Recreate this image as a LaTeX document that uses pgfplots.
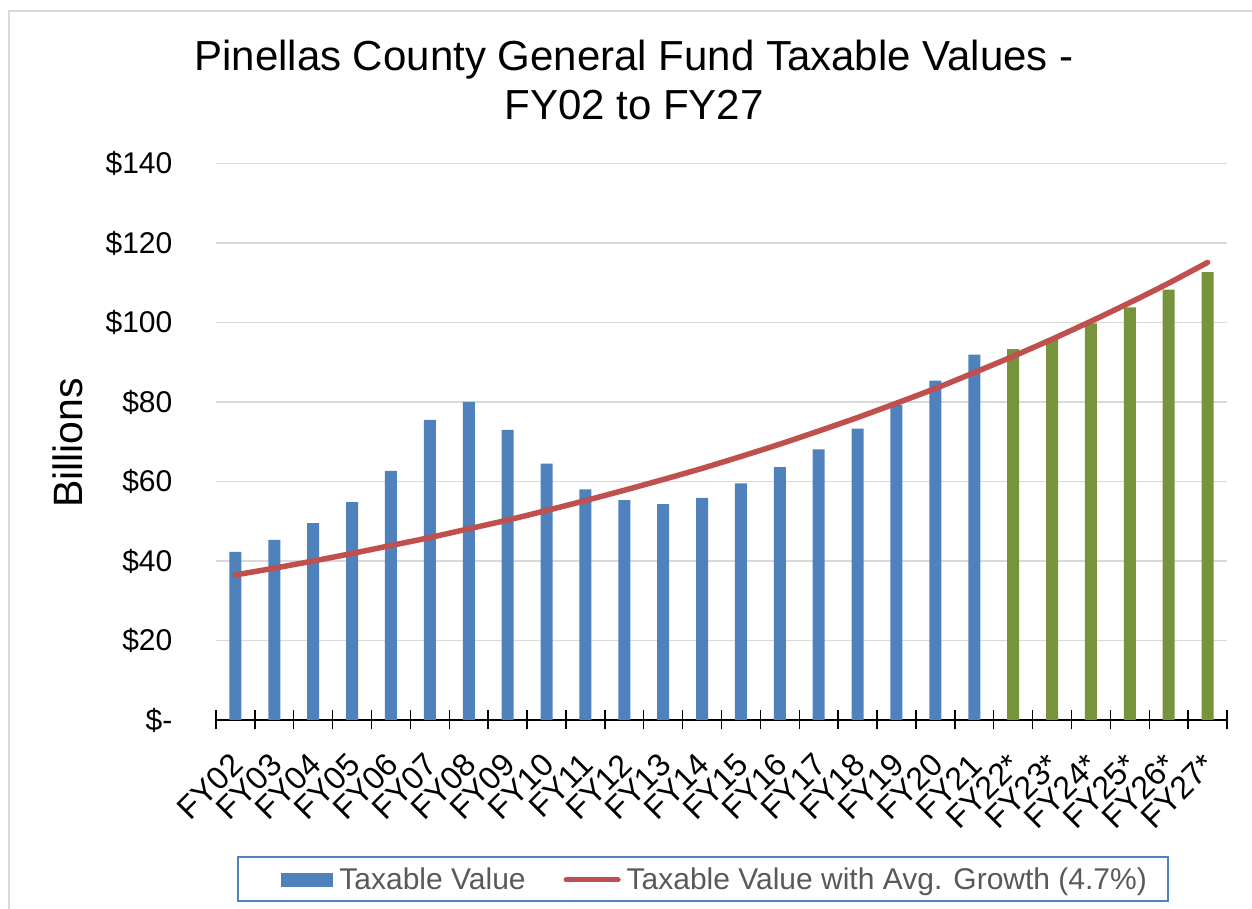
\documentclass[border=0pt]{standalone}
\usepackage{fontspec}
\setmainfont{Liberation Sans}
\usepackage{pgfplots}
\pgfplotsset{compat=1.18}
\definecolor{BarBlue}{HTML}{4F81BD}
\definecolor{BarGreen}{HTML}{77933C}
\definecolor{LineRed}{HTML}{C0504D}
\definecolor{GridGray}{HTML}{D9D9D9}
\definecolor{LegendGray}{HTML}{595959}

\begin{document}
\begin{tikzpicture}
% 1 px of the reference = 0.5pt
\useasboundingbox (0,0) rectangle (626pt,454.5pt);
\draw[GridGray, line width=0.75pt] (4.5pt,0pt) -- (4.5pt,449pt) -- (626pt,449pt);

\begin{axis}[
    at={(108pt,94.5pt)}, anchor=south west,
    scale only axis,
    width=505.5pt, height=278.25pt,
    xmin=-0.5, xmax=25.5,
    ymin=0, ymax=140,
    separate axis lines,
    axis x line*=bottom,
    axis y line*=left,
    x axis line style={black, line width=0.75pt},
    y axis line style={draw=none},
    xtick={0,...,25},
    xticklabels={FY02,FY03,FY04,FY05,FY06,FY07,FY08,FY09,FY10,FY11,FY12,FY13,FY14,
                 FY15,FY16,FY17,FY18,FY19,FY20,FY21,FY22*,FY23*,FY24*,FY25*,FY26*,FY27*},
    minor xtick={-0.5,0.5,...,25.5},
    major x tick style={draw=none},
    minor x tick style={black, line width=0.7pt},
    minor tick length=9.5pt,
    tick align=center,
    ytick={0,20,...,140},
    yticklabels={\$-,\$20,\$40,\$60,\$80,\$100,\$120,\$140},
    major y tick style={draw=none},
    ymajorgrids,
    grid style={GridGray, line width=0.75pt},
    xticklabel style={font=\fontsize{16}{19}\selectfont, inner sep=0pt,
        xshift=1pt, yshift=-17.5pt, rotate=45, anchor=east},
    yticklabel style={font=\fontsize{15}{18}\selectfont, inner sep=0pt,
        anchor=east, xshift=-19.5pt},
    ylabel={Billions},
    ylabel style={font=\fontsize{20.5}{24}\selectfont,
        at={(axis description cs:-0.1464,0.498)}, anchor=center},
    legend columns=2,
    legend style={at={(axis description cs:0.0643,-0.2875)}, anchor=west,
        draw=none, fill=none, inner sep=0pt,
        font=\fontsize{15}{18}\selectfont, text=LegendGray,
        nodes={inner xsep=3pt, inner ysep=0pt},
        /tikz/every even column/.append style={column sep=16pt}},
]
\addplot[ybar, bar width=6pt, fill=BarBlue, draw=none,
    legend image code/.code={\fill[BarBlue] (0pt,-3.5pt) rectangle (26pt,3.5pt);}]
coordinates {
    (0,42.3) (1,45.3) (2,49.5) (3,54.8) (4,62.7) (5,75.5) (6,80.0) (7,73.0)
    (8,64.5) (9,58.0) (10,55.3) (11,54.3) (12,55.9) (13,59.5) (14,63.6)
    (15,68.1) (16,73.3) (17,79.2) (18,85.4) (19,91.9)
};
\addplot[ybar, bar width=6pt, fill=BarGreen, draw=none, forget plot]
coordinates {
    (20,93.3) (21,95.9) (22,99.8) (23,103.8) (24,108.3) (25,112.7)
};
\addplot[LineRed, line width=2.75pt, line cap=round, line join=round, no marks, smooth,
    legend image code/.code={\draw[LineRed, line width=2.5pt, line cap=round] (1pt,0pt) -- (27pt,0pt);}]
coordinates {
    (0,36.5) (1,38.2) (2,40.0) (3,41.9) (4,43.9) (5,45.9) (6,48.1) (7,50.3)
    (8,52.7) (9,55.2) (10,57.8) (11,60.5) (12,63.3) (13,66.3) (14,69.4)
    (15,72.7) (16,76.1) (17,79.7) (18,83.4) (19,87.4) (20,91.5) (21,95.8)
    (22,100.3) (23,105.0) (24,109.9) (25,115.1)
};
\legend{Taxable Value, Taxable Value with Avg. Growth (4.7\%)}
\end{axis}

\draw[BarBlue, line width=0.9pt] (119pt,26pt) rectangle (584pt,4pt);
\node[anchor=base, font=\fontsize{21}{25}\selectfont, inner sep=0pt] at (317pt,419pt)
    {Pinellas County General Fund Taxable Values -};
\node[anchor=base, font=\fontsize{21}{25}\selectfont, inner sep=0pt] at (317pt,394.5pt)
    {FY02 to FY27};
\end{tikzpicture}
\end{document}
